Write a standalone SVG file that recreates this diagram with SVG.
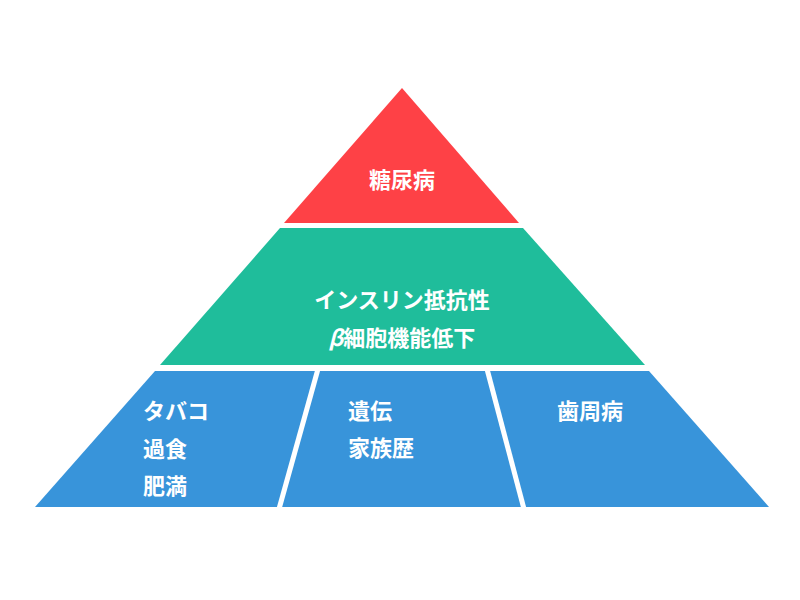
<svg xmlns="http://www.w3.org/2000/svg" width="800" height="600" viewBox="0 0 800 600">
<style>
text{font-family:"Noto Sans CJK JP","Noto Sans",sans-serif;font-size:22px;font-weight:bold;fill:#fff}
.div{stroke:#fff;stroke-width:5}
</style>
<rect width="800" height="600" fill="#fff"/>
<g id="top"><polygon points="402,88 519,223 284,223" fill="#fe4146"/><text x="402" y="188" text-anchor="middle">糖尿病</text></g>
<g id="middle"><polygon points="280,228 523,228 645,365 160,365" fill="#1fbd9b"/>
<text x="402" y="308" text-anchor="middle">インスリン抵抗性</text>
<text x="402" y="346" text-anchor="middle"><tspan font-style="italic">β</tspan>細胞機能低下</text></g>
<g id="bottom"><polygon points="155,371 649,371 769,507 35,507" fill="#3894da"/>
<text x="143" y="419">タバコ</text><text x="143" y="457">過食</text><text x="143" y="494">肥満</text>
<text x="348" y="419">遺伝</text><text x="348" y="456">家族歴</text>
<text x="557" y="419">歯周病</text></g>
<g id="connectors"><line class="div" x1="318" y1="369" x2="279" y2="509"/><line class="div" x1="487" y1="369" x2="524" y2="509"/></g>
</svg>
